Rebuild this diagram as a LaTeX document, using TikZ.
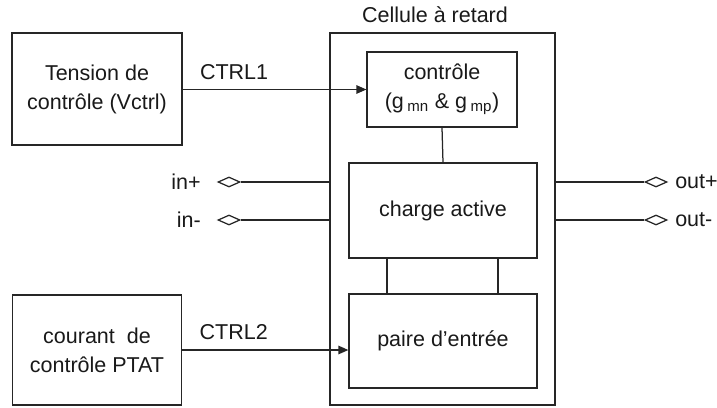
\documentclass[tikz,border=0pt]{standalone}
\usepackage{fontspec}
\setmainfont{Liberation Sans}
\usetikzlibrary{arrows.meta,positioning,shapes.geometric}

\begin{document}
\begin{tikzpicture}[
    x=1pt, y=-1pt,
    font=\fontsize{21.5}{29}\selectfont,
    line width=1.25pt, draw=black!85, text=black!90,
    block/.style={draw, align=center, inner sep=0pt},
    port/.style={draw, diamond, minimum width=22pt, minimum height=10pt, inner sep=0pt},
    sig/.style={-{Triangle[length=10pt, width=8.5pt]}},
    lbl/.style={inner sep=0pt}
  ]
  \useasboundingbox (0,0) rectangle (717,407);
  \node[block, minimum width=170pt, minimum height=112pt] (vctrl) at (97,89) {Tension de\\contrôle (Vctrl)};
  \node[block, minimum width=169pt, minimum height=110pt] (ptat) at (97,350) {courant\ \ de\\contrôle PTAT};
  \node[block, minimum width=225pt, minimum height=372pt] (cell) at (442.5,219) {};
  \node[lbl, anchor=base] (title) at (435,22) {Cellule à retard};
  \node[block, minimum width=150pt, minimum height=75pt] (ctrl) at (442,89.5) {contrôle\\(g\,\textsubscript{mn} \& g\,\textsubscript{mp})};
  \node[block, minimum width=188pt, minimum height=95pt] (charge) at (443,210.5) {charge active};
  \node[block, minimum width=188pt, minimum height=94pt] (paire) at (443,341) {paire d'entrée};
  \draw[sig] (vctrl.east |- ctrl.west) -- node[above=6pt, pos=0.28] (ctrlA) {CTRL1} (ctrl.west);
  \draw[sig] (ptat.east) -- node[above=6pt, pos=0.31] (ctrlB) {CTRL2} (paire.west |- ptat.east);
  \draw (ctrl.south) -- (charge.north);
  \foreach \s [count=\i] in {-56,55} {
    \coordinate (link\i) at ([xshift=\s pt]charge.south);
    \draw (link\i) -- (link\i |- paire.north);
  }
  \foreach \nm/\txt/\y in {inp/in+/182, inm/in-/220} {
    \node[port] (\nm) at (229,\y) {};
    \node[lbl, left=16pt of \nm] (lbl\nm) {\txt};
    \draw (\nm.east) -- (\nm.east -| cell.west);
  }
  \foreach \nm/\txt/\y in {outp/out+/182, outm/out-/220} {
    \node[port] (\nm) at (656,\y) {};
    \node[lbl, right=7pt of \nm] (lbl\nm) {\txt};
    \draw (cell.east |- \nm.west) -- (\nm.west);
  }
\end{tikzpicture}
\end{document}
